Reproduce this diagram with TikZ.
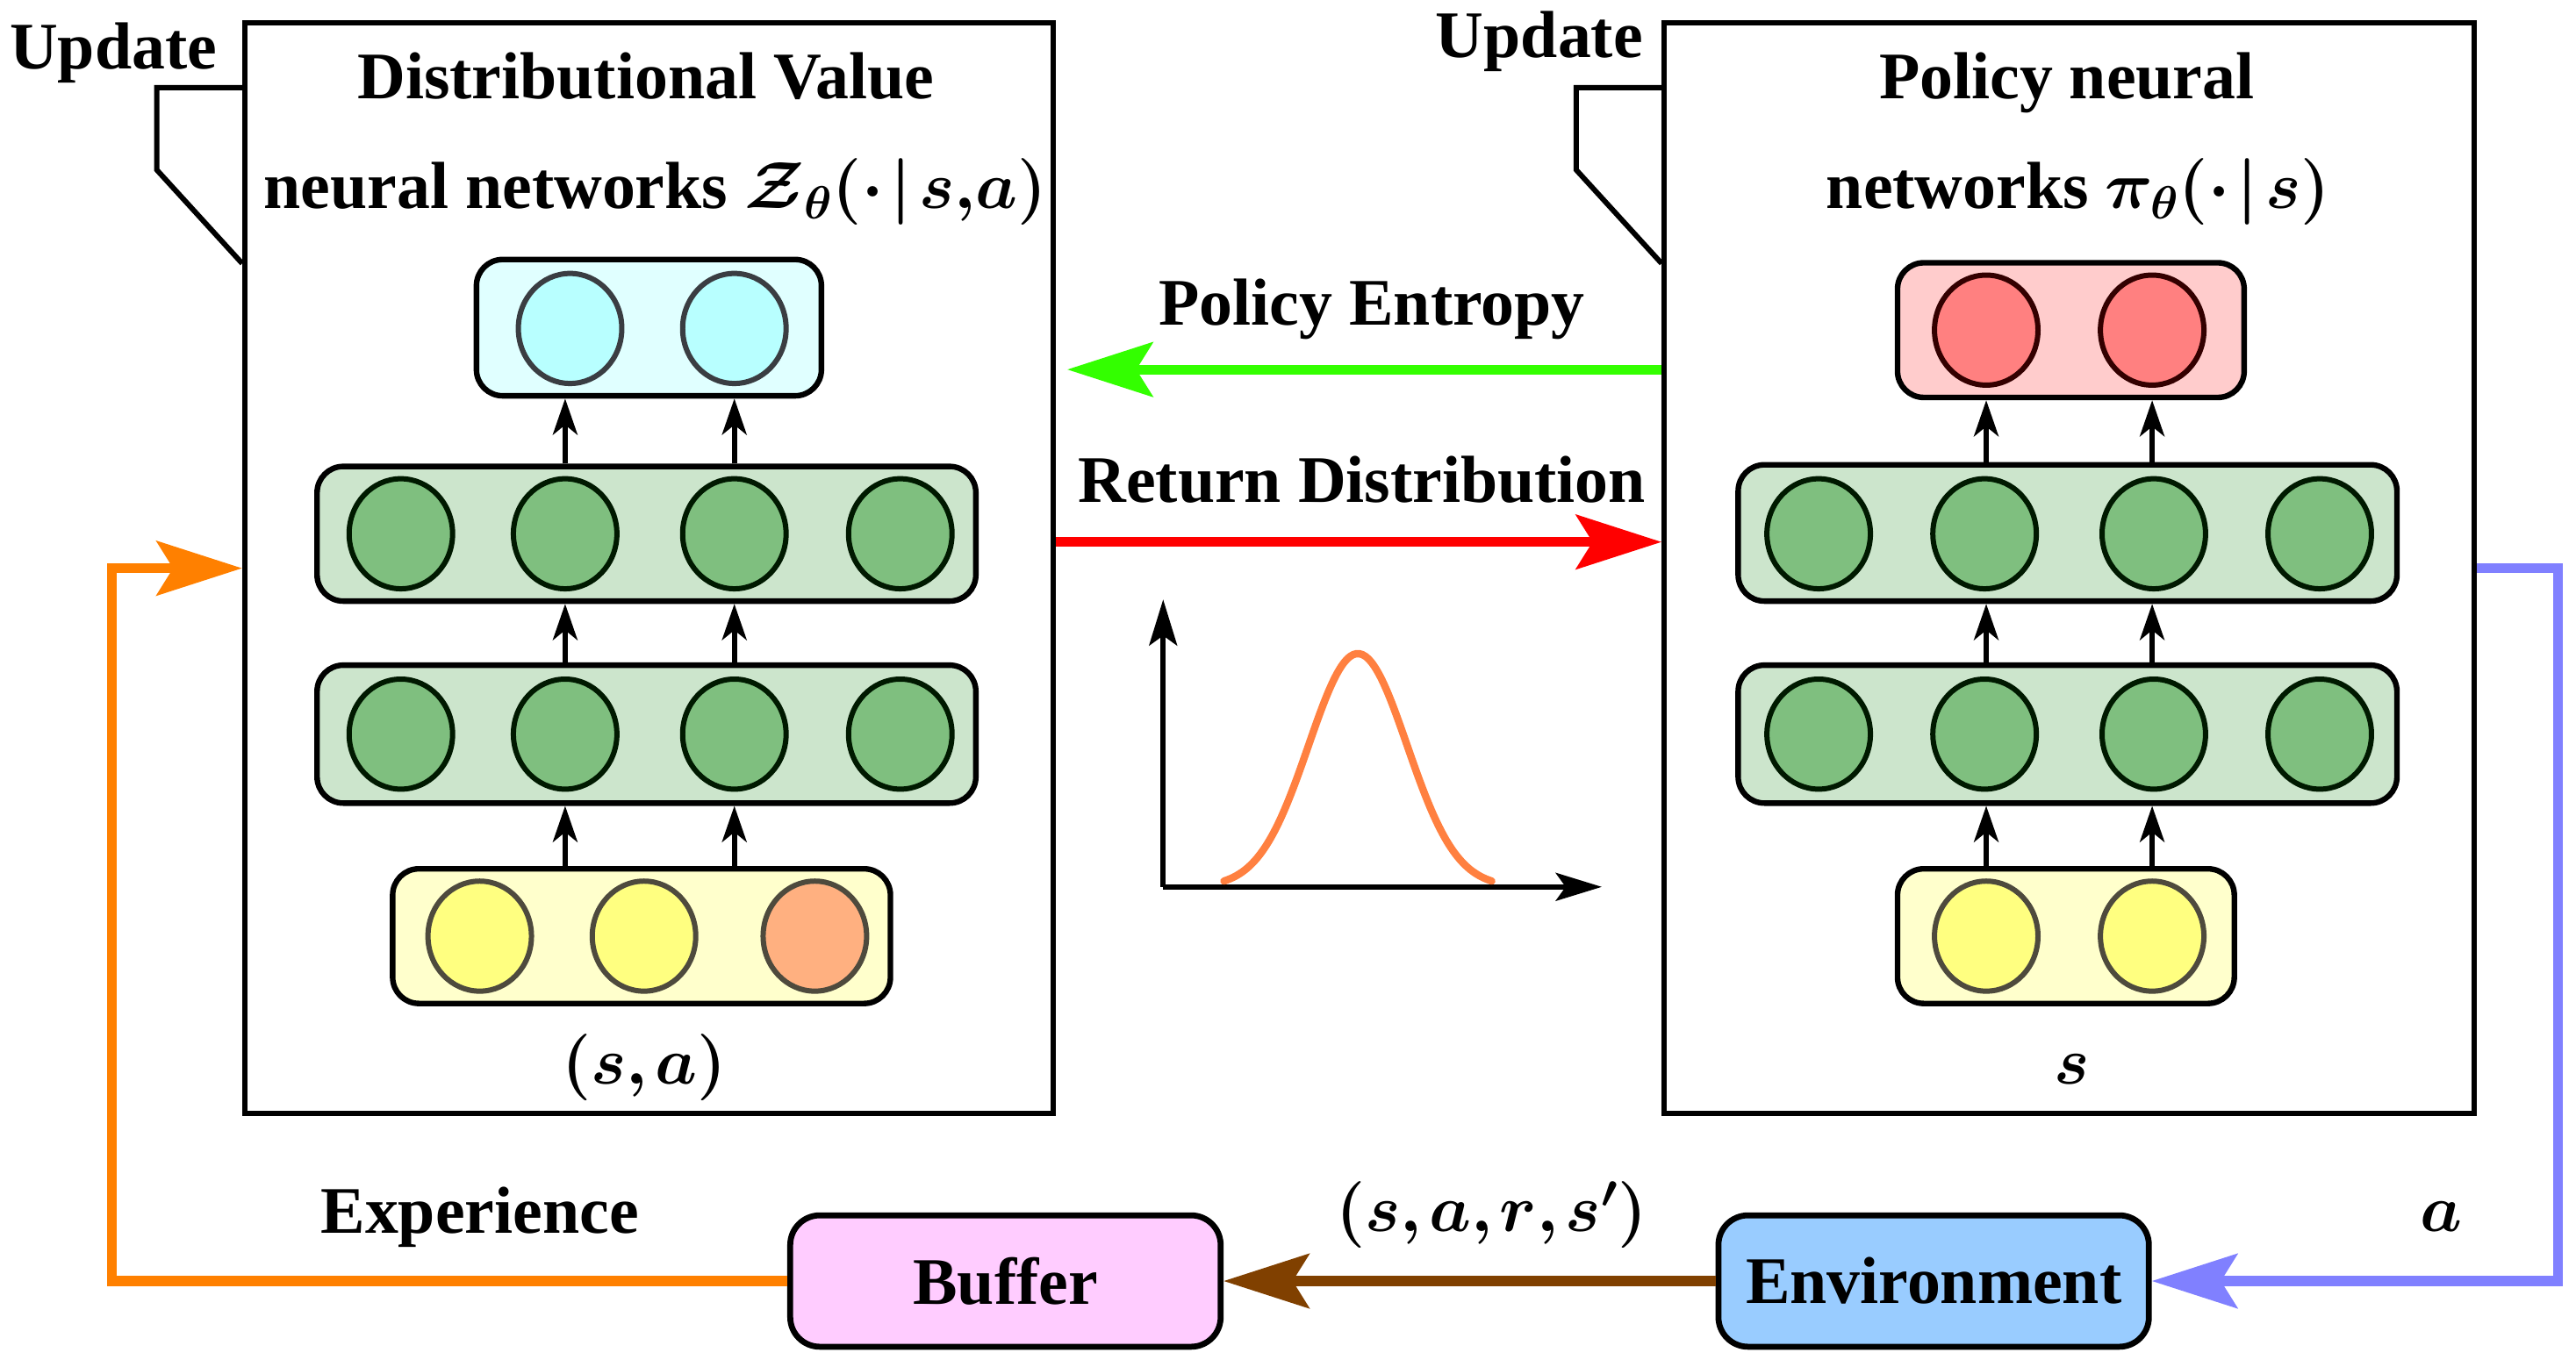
\RequirePackage{fix-cm}
\documentclass[tikz,border=0pt]{standalone}
\usepackage{amsmath}
\usepackage{bm}
\usepackage{fontspec}
\setmainfont{Liberation Serif}
\usetikzlibrary{shapes.geometric,arrows.meta,calc}
\definecolor{cyanbox}{HTML}{E0FFFF}
\definecolor{cyancirc}{HTML}{B8FFFF}
\definecolor{greenbox}{HTML}{CCE5CC}
\definecolor{greencirc}{HTML}{7FBF7F}
\definecolor{yelbox}{HTML}{FFFFCC}
\definecolor{yelcirc}{HTML}{FFFF80}
\definecolor{orcirc}{HTML}{FFB080}
\definecolor{redbox}{HTML}{FFCCCC}
\definecolor{redcirc}{HTML}{FF8080}
\definecolor{bufcol}{HTML}{FFCCFF}
\definecolor{envcol}{HTML}{99CCFF}
\definecolor{entcol}{HTML}{33FF00}
\definecolor{retcol}{HTML}{FF0000}
\definecolor{expcol}{HTML}{FF8000}
\definecolor{trcol}{HTML}{804000}
\definecolor{actcol}{HTML}{8080FF}
\definecolor{curvecol}{HTML}{FF8040}
\newcommand{\lblfont}{\fontsize{40.5}{46}\selectfont\bfseries}
\begin{document}
\begin{tikzpicture}[x=1pt,y=-1pt,
  bigbox/.style={draw, line width=3.2pt, inner sep=0pt},
  tabline/.style={line width=3.2pt, line join=miter},
  layerbox/.style={draw, line width=3.4pt, rounded corners=16pt, inner sep=0pt},
  neuron/.style={ellipse, draw, line width=3.2pt, minimum width=63pt, minimum height=67pt, inner sep=0pt},
  lbl/.style={anchor=base, inner sep=0pt, font=\lblfont},
  smallarr/.style={line width=3pt, -{Stealth[length=22pt,width=15pt,inset=6pt]}},
  bigarr/.style={line width=6pt, -{Stealth[length=52pt,width=33pt,inset=10pt]}},
  flowbox/.style={draw, line width=3.6pt, rounded corners=18pt, minimum width=262pt, minimum height=80pt, inner sep=0pt, font=\lblfont},
  axisarr/.style={line width=3.2pt, -{Stealth[length=28pt,width=17pt,inset=6pt]}}
]
\useasboundingbox (0,0) rectangle (1568,832);

% ---------- left big box ----------
\node[bigbox, minimum width=492pt, minimum height=664pt] (L) at (395,346) {};
\draw[tabline] ($(L.north west)+(0,41)$) -- ++(-52,0) -- ++(0,50) -- ($(L.north west)+(0,148)$);
\node[lbl] (updL) at (69,42) {Update};
\node[lbl] (titL1) at (393,60) {Distributional Value};
\node[lbl] (titL2) at (399,127) {neural networks $\bm{\mathcal{Z}_{\theta}(\cdot\mkern2mu|\mkern2mu s{,}a)}$};

% layers left
\node[layerbox, fill=cyanbox, minimum width=210pt, minimum height=83pt] (lout) at (395,199.5) {};
\node[neuron, fill=cyancirc, draw=black!85!cyan] (lo1) at (347,200) {};
\node[neuron, fill=cyancirc, draw=black!85!cyan] (lo2) at (447,200) {};

\node[layerbox, fill=greenbox, minimum width=401pt, minimum height=82pt] (lg1) at (393.5,325) {};
\node[neuron, fill=greencirc, draw=black!90!green] (lg1a) at (244,325) {};
\node[neuron, fill=greencirc, draw=black!90!green] (lg1b) at (344,325) {};
\node[neuron, fill=greencirc, draw=black!90!green] (lg1c) at (447,325) {};
\node[neuron, fill=greencirc, draw=black!90!green] (lg1d) at (548,325) {};

\node[layerbox, fill=greenbox, minimum width=401pt, minimum height=84pt] (lg2) at (393.5,447) {};
\node[neuron, fill=greencirc, draw=black!90!green] (lg2a) at (244,447) {};
\node[neuron, fill=greencirc, draw=black!90!green] (lg2b) at (344,447) {};
\node[neuron, fill=greencirc, draw=black!90!green] (lg2c) at (447,447) {};
\node[neuron, fill=greencirc, draw=black!90!green] (lg2d) at (548,447) {};

\node[layerbox, fill=yelbox, minimum width=303pt, minimum height=82pt] (lin) at (390.5,570) {};
\node[neuron, fill=yelcirc, draw=black!80!yellow] (lin1) at (292,570) {};
\node[neuron, fill=yelcirc, draw=black!80!yellow] (lin2) at (392,570) {};
\node[neuron, fill=orcirc, draw=black!80!yellow] (lin3) at (496,570) {};
\node[lbl] (lsa) at (392,660) {$\bm{(s{,}\mkern2mu a)}$};

\draw[smallarr] (lin.north -| lg2b) -- (lg2.south -| lg2b);
\draw[smallarr] (lin.north -| lg2c) -- (lg2.south -| lg2c);
\draw[smallarr] (lg2.north -| lg2b) -- (lg1.south -| lg2b);
\draw[smallarr] (lg2.north -| lg2c) -- (lg1.south -| lg2c);
\draw[smallarr] (lg1.north -| lg2b) -- (lout.south -| lg2b);
\draw[smallarr] (lg1.north -| lg2c) -- (lout.south -| lg2c);

% ---------- right big box ----------
\node[bigbox, minimum width=493pt, minimum height=664pt] (R) at (1259.5,346) {};
\draw[tabline] ($(R.north west)+(0,41)$) -- ++(-52,0) -- ++(0,50) -- ($(R.north west)+(0,148)$);
\node[lbl] (updR) at (937,35) {Update};
\node[lbl] (titR1) at (1258,60) {Policy neural};
\node[lbl] (titR2) at (1265,127) {networks $\bm{\pi_{\theta}(\cdot\mkern2mu|\mkern2mu s)}$};

\node[layerbox, fill=redbox, minimum width=211pt, minimum height=82pt] (rout) at (1260.5,201) {};
\node[neuron, fill=redcirc, draw=black!80!red] (ro1) at (1209,201) {};
\node[neuron, fill=redcirc, draw=black!80!red] (ro2) at (1310,201) {};

\node[layerbox, fill=greenbox, minimum width=401pt, minimum height=83pt] (rg1) at (1258.5,324.5) {};
\node[neuron, fill=greencirc, draw=black!90!green] (rg1a) at (1107,325) {};
\node[neuron, fill=greencirc, draw=black!90!green] (rg1b) at (1208,325) {};
\node[neuron, fill=greencirc, draw=black!90!green] (rg1c) at (1311,325) {};
\node[neuron, fill=greencirc, draw=black!90!green] (rg1d) at (1412,325) {};

\node[layerbox, fill=greenbox, minimum width=401pt, minimum height=84pt] (rg2) at (1258.5,447) {};
\node[neuron, fill=greencirc, draw=black!90!green] (rg2a) at (1107,447) {};
\node[neuron, fill=greencirc, draw=black!90!green] (rg2b) at (1208,447) {};
\node[neuron, fill=greencirc, draw=black!90!green] (rg2c) at (1311,447) {};
\node[neuron, fill=greencirc, draw=black!90!green] (rg2d) at (1412,447) {};

\node[layerbox, fill=yelbox, minimum width=205pt, minimum height=82pt] (rin) at (1257.5,570) {};
\node[neuron, fill=yelcirc, draw=black!80!yellow] (rin1) at (1209,570) {};
\node[neuron, fill=yelcirc, draw=black!80!yellow] (rin2) at (1310,570) {};
\node[lbl] (rs) at (1261,660) {$\bm{s}$};

\draw[smallarr] (rin.north -| rin1) -- (rg2.south -| rin1);
\draw[smallarr] (rin.north -| rin2) -- (rg2.south -| rin2);
\draw[smallarr] (rg2.north -| rin1) -- (rg1.south -| rin1);
\draw[smallarr] (rg2.north -| rin2) -- (rg1.south -| rin2);
\draw[smallarr] (rg1.north -| rin1) -- (rout.south -| rin1);
\draw[smallarr] (rg1.north -| rin2) -- (rout.south -| rin2);

% ---------- middle arrows ----------
\draw[bigarr, entcol] ($(R.west)+(0,-121)$) -- ($(L.east)+(7,-121)$);
\node[lbl] (entl) at (835,198) {Policy Entropy};
\draw[bigarr, retcol] ($(L.east)+(0,-16)$) -- ($(R.west)+(0,-16)$);
\node[lbl] (retl) at (829,306) {Return Distribution};

% distribution plot
\coordinate (orig) at (708,540);
\draw[axisarr] (orig) -- (975,540);
\draw[axisarr] (orig) -- (708,365);
\draw[curvecol, line width=4.5pt, line cap=round] plot[domain=745:908, samples=90, smooth] (\x, {540-142*exp(-((\x-826.5)^2)/1800)});

% ---------- bottom ----------
\node[flowbox, fill=bufcol] (buf) at (612,780) {Buffer};
\node[flowbox, fill=envcol] (env) at (1177,780) {Environment};
\draw[bigarr, trcol] (env.west) -- (buf.east);
\node[lbl] (trl) at (908,750) {$\bm{(s{,}\mkern2mu a{,}\mkern2mu r{,}\mkern2mu s')}$};

\coordinate (oc) at (68,346);
\draw[bigarr, expcol, line join=miter] (buf.west) -| (oc) -- (L.west);
\node[lbl] (expl) at (292,751) {Experience};

\coordinate (bc) at (1557,346);
\draw[bigarr, actcol, line join=miter] (R.east) -- (bc) |- (env.east);
\node[lbl] (actl) at (1486,750) {$\bm{a}$};
\end{tikzpicture}
\end{document}
